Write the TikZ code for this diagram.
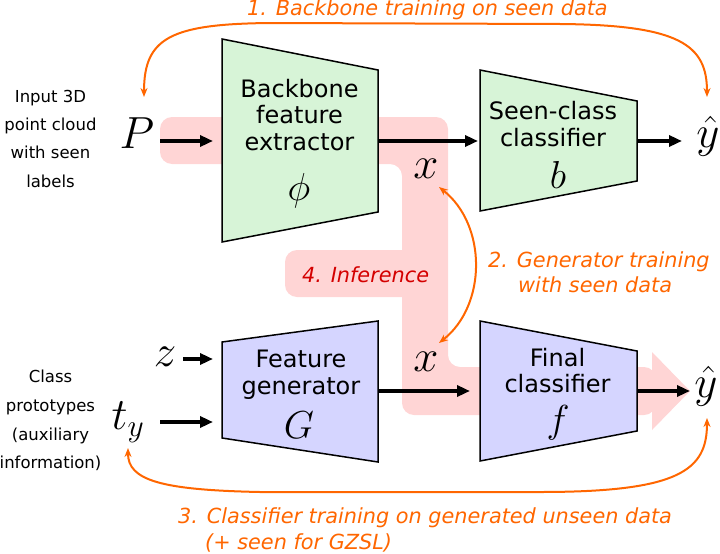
\RequirePackage{fix-cm}
\documentclass[tikz,border=0pt]{standalone}
\usepackage{fontspec}
\setmainfont{DejaVu Sans}
\usetikzlibrary{arrows.meta}
\definecolor{pinkband}{RGB}{255,213,213}
\definecolor{greenbox}{RGB}{215,244,215}
\definecolor{bluebox}{RGB}{213,213,255}
\definecolor{orangeline}{RGB}{255,102,0}
\definecolor{redtext}{RGB}{212,0,0}
\begin{document}
\begin{tikzpicture}[x=1pt,y=-1pt,
  trapbox/.style={draw=black, line width=1.5pt, line join=miter},
  boxline/.style={font=\fontsize{24}{26}\selectfont, anchor=base, inner sep=0pt},
  sidetext/.style={font=\fontsize{16.5}{18}\selectfont, anchor=base, inner sep=0pt},
  orangetext/.style={font=\fontsize{20.8}{24}\selectfont\itshape, text=orangeline, anchor=base west, inner sep=0pt},
  redlabel/.style={font=\fontsize{20.8}{24}\selectfont\itshape, text=redtext, anchor=base west, inner sep=0pt},
  bigmath/.style={font=\fontsize{45}{45}\selectfont, inner sep=0pt},
  boxmath/.style={font=\fontsize{39}{39}\selectfont, inner sep=0pt},
  flow/.style={line width=4pt, -{Triangle[length=13pt,width=11pt]}},
  train/.style={draw=orangeline, line width=2pt, {Stealth[length=9pt,width=7pt]}-{Stealth[length=9pt,width=7pt]}},
]
\useasboundingbox (0,0) rectangle (720,554);

% pink inference band
\fill[pinkband, rounded corners=12pt]
  (160,117) -- (448,117) -- (448,367) -- (656,367) -- (656,415)
  -- (402,415) -- (402,164) -- (160,164) -- cycle;
\fill[pinkband] (652,352) -- (690,391) -- (652,430) -- cycle;
\fill[pinkband, rounded corners=12pt] (285,250) rectangle (447,297);
\node[redlabel] (inference) at (302,282) {4. Inference};

% trapezoids
\draw[trapbox, fill=greenbox] (222,39) -- (378,70) -- (378,212) -- (222,242) -- cycle;
\draw[trapbox, fill=greenbox] (480,70) -- (637,101) -- (637,181) -- (480,211) -- cycle;
\draw[trapbox, fill=bluebox] (222,342) -- (378,321) -- (378,462) -- (222,438) -- cycle;
\draw[trapbox, fill=bluebox] (480,321) -- (637,351) -- (637,431) -- (480,461) -- cycle;

% box texts
\node[boxline] (bb1) at (299.5,97) {Backbone};
\node[boxline] (bb2) at (299.5,123.5) {feature};
\node[boxline] (bb3) at (299.5,150) {extractor};
\node[boxmath] (phi) at (299,191) {$\phi$};
\node[boxline] (sc1) at (553,119.5) {Seen-class};
\node[boxline] (sc2) at (553,146) {classifier};
\node[boxmath] (bsym) at (558,175) {$b$};
\node[boxline] (fg1) at (301,367) {Feature};
\node[boxline] (fg2) at (301,394.5) {generator};
\node[boxmath] (Gsym) at (299,425) {$G$};
\node[boxline] (fc1) at (557.5,366) {Final};
\node[boxline] (fc2) at (557.5,392.5) {classifier};
\node[boxmath] (fsym) at (558,423) {$f$};

% side texts
\node[sidetext] (in1) at (50.5,102) {Input 3D};
\node[sidetext] (in2) at (50.5,130) {point cloud};
\node[sidetext] (in3) at (50.5,158.5) {with seen};
\node[sidetext] (in4) at (50.5,187) {labels};
\node[sidetext] (cp1) at (50.5,382) {Class};
\node[sidetext] (cp2) at (50.5,411) {prototypes};
\node[sidetext] (cp3) at (50.5,440) {(auxiliary};
\node[sidetext] (cp4) at (50.5,468.5) {information)};

% math symbols
\node[bigmath] (P) at (137,133) {$P$};
\node[bigmath] (yhat1) at (708,136) {$\hat y$};
\node[bigmath] (yhat2) at (706,386) {$\hat y$};
\node[bigmath] (xtop) at (426,169) {$x$};
\node[bigmath] (xbot) at (426,362) {$x$};
\node[bigmath] (z) at (165,357) {$z$};
\node[bigmath] (ty) at (128,422) {$t_y$};

% connector coordinates
\coordinate (Pout) at (160,141);
\coordinate (bbin) at (213,141);
\coordinate (bbout) at (378,141);
\coordinate (scin) at (478,141);
\coordinate (scout) at (637,141);
\coordinate (y1in) at (682,141);
\coordinate (zout) at (183,359);
\coordinate (zin) at (213,359);
\coordinate (tout) at (160,422);
\coordinate (tin) at (213,422);
\coordinate (fgout) at (378,391);
\coordinate (fcin) at (470,391);
\coordinate (fcout) at (637,391);
\coordinate (y2in) at (690,391);

\draw[flow] (Pout) -- (bbin);
\draw[flow] (bbout) -- (scin);
\draw[flow] (scout) -- (y1in);
\draw[flow] (zout) -- (zin);
\draw[flow] (tout) -- (tin);
\draw[flow] (fgout) -- (fcin);
\draw[flow] (fcout) -- (y2in);

% orange training loops
\coordinate (o1a) at (144,97);
\coordinate (o1b) at (707,97);
\coordinate (o2a) at (439,187);
\coordinate (o2b) at (439,343);
\coordinate (o3a) at (128,448);
\coordinate (o3b) at (707,418);

\draw[train] (o1a) .. controls (144,38) and (170,24) .. (270,23)
  -- (560,24) .. controls (680,25) and (707,45) .. (o1b);
\draw[train] (o2a) .. controls (487,225) and (487,305) .. (o2b);
\draw[train] (o3a) .. controls (128,480) and (160,490) .. (260,492)
  -- (540,492) .. controls (680,492) and (707,470) .. (o3b);

\node[orangetext] (lab1) at (247,15.5) {1. Backbone training on seen data};
\node[orangetext] (lab2a) at (488,267) {2. Generator training};
\node[orangetext] (lab2b) at (518,292.5) {with seen data};
\node[orangetext] (lab3a) at (178,523) {3. Classifier training on generated unseen data};
\node[orangetext] (lab3b) at (205,549) {(+ seen for GZSL)};
\end{tikzpicture}
\end{document}
